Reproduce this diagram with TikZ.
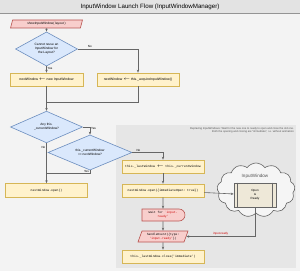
\documentclass[tikz,border=0pt]{standalone}
\usepackage{fontspec}
\setmainfont{Liberation Sans}
\setmonofont{Liberation Mono}
\usepackage{tikz}
\usetikzlibrary{shapes.geometric,shapes.misc,shapes.symbols,arrows.meta}
\definecolor{canvas}{HTML}{F3F3F3}
\definecolor{titlebar}{HTML}{E3E3E3}
\definecolor{panelgray}{HTML}{E6E6E6}
\definecolor{wire}{HTML}{666666}
\definecolor{pinkfill}{HTML}{F8CECC}
\definecolor{pinkline}{HTML}{B85450}
\definecolor{bluefill}{HTML}{DAE8FC}
\definecolor{blueline}{HTML}{6C8EBF}
\definecolor{yellowfill}{HTML}{FFF2CC}
\definecolor{yellowline}{HTML}{D6B656}
\definecolor{cloudfill}{HTML}{F5F5F5}
\definecolor{readyfill}{HTML}{EEE8D8}
\definecolor{eventred}{HTML}{CC0000}
\definecolor{notegray}{HTML}{555555}

\tikzset{
  stepbox/.style={draw=yellowline, fill=yellowfill, line width=0.6pt, minimum height=13pt, inner sep=1pt, align=center, font=\fontsize{3.4}{4}\selectfont},
  codebox/.style={stepbox, font=\ttfamily\fontsize{3.1}{3.7}\selectfont},
  decision/.style={diamond, draw=blueline, fill=bluefill, line width=0.6pt, inner sep=0pt, align=center, font=\fontsize{3.2}{3.8}\selectfont},
  iobox/.style={trapezium, trapezium left angle=62, trapezium right angle=118, trapezium stretches body, draw=pinkline, fill=pinkfill, line width=0.6pt, inner sep=0.5pt, align=center},
  flow/.style={draw=wire, line width=0.6pt, -{Stealth[length=3pt,width=2.4pt]}},
  joinline/.style={draw=wire, line width=0.6pt},
  tag/.style={font=\fontsize{3}{3.5}\selectfont, inner sep=0.8pt, text=black}
}

\begin{document}
\begin{tikzpicture}[x=1pt, y=1pt]
  \useasboundingbox (0,0) rectangle (300,271);
  % background, title bar, replacing panel
  \fill[canvas] (0,0) rectangle (300,271);
  \fill[titlebar] (0,258) rectangle (300,271);
  \draw[wire!70, line width=0.5pt] (0,258) -- (300,258);
  \node (title) at (150,264.5) {\fontsize{6.2}{7}\selectfont InputWindow Launch Flow (InputWindowManager)};
  \fill[panelgray] (116,3) rectangle (296,146);
  \node (note) [anchor=north east, align=right, text=notegray, inner sep=0pt, font=\fontsize{2.7}{3.3}\selectfont] at (294,143.5)
    {Replacing InputWindows: Wait for the new one to ready to open and close the old one.\\
     Both the opening and closing are ``immediate'', i.e. without animation};

  % left column
  \node (start) [iobox, minimum width=72pt, minimum height=8pt, font=\fontsize{3.2}{3.8}\selectfont] at (46.5,247) {showInputWindow( layout )};
  \node (d1) [decision, minimum width=62pt, minimum height=21pt] at (46.5,222) {Cannot reuse an\\InputWindow for\\the Layout?};
  \node (bnew) [stepbox, minimum width=73pt] at (46.5,191.5) {nextWindow $\leftarrow$ new InputWindow};
  \node (bacq) [stepbox, minimum width=82pt] at (138,191.5) {nextWindow $\leftarrow$ this.\_acquireInputWindow()};
  \coordinate (merge) at (46.5,169);
  \node (d2) [decision, minimum width=72pt, minimum height=17pt] at (46.5,144) {Any this.\\\_currentWindow?};
  \node (d3) [decision, minimum width=84pt, minimum height=21pt] at (90,118.5) {this.\_currentWindow\\== nextWindow?};
  \coordinate (rejoin) at (46.5,98);
  \node (bopen) [codebox, minimum width=82pt, minimum height=14pt] at (46.5,80.5) {nextWindow.open()};

  % replacing branch
  \node (blast) [codebox, minimum width=82pt] at (163,104.5) {this.\_lastWindow $\leftarrow$ this.\_currentWindow};
  \node (bimm) [codebox, minimum width=82pt] at (163,80.5) {nextWindow.open(\{immediateOpen: true\})};
  \node (iw) [cloud, cloud puffs=13, cloud puff arc=110, aspect=1.5, draw=wire, fill=cloudfill, line width=0.6pt, minimum width=78pt, minimum height=54pt, inner sep=0pt] at (256,81) {};
  \node (iwlabel) [font=\fontsize{4.6}{5.5}\selectfont, text=notegray] at (255,95) {InputWindow};
  \node (ready) [draw=wire, fill=readyfill, line width=0.6pt, minimum width=42pt, minimum height=24pt, inner sep=0pt, align=center, font=\fontsize{3}{3.8}\selectfont] at (255,76) {Open\\\&\\Ready};
  \draw[wire, line width=0.6pt] ([xshift=4pt]ready.north west) -- ([xshift=4pt]ready.south west);
  \draw[wire, line width=0.6pt] ([xshift=-4pt]ready.north east) -- ([xshift=-4pt]ready.south east);
  \node (wait) [rounded rectangle, rounded rectangle west arc=none, draw=pinkline, fill=pinkfill, line width=0.6pt, minimum width=44pt, minimum height=12pt, inner sep=0.5pt, align=center, font=\ttfamily\fontsize{3}{3.7}\selectfont] at (163,56)
    {Wait for {\color{eventred}`input-}\\{\color{eventred}ready'}};
  \node (handle) [iobox, minimum width=50pt, minimum height=11pt, font=\ttfamily\fontsize{3}{3.7}\selectfont] at (163,34.5)
    {handleEvent(\{type:\\{\color{eventred}'input-ready'}\})};
  \node (bclose) [codebox, minimum width=82pt] at (163,14.5) {this.\_lastWindow.close('immediate')};

  % connectors
  \draw[flow] (start) -- (d1);
  \draw[flow] (d1.east) -| node[tag, above, pos=0.1] {No} (bacq.north);
  \draw[flow] (d1.south) -- node[tag, right, pos=0.3] {Yes} (bnew.north);
  \draw[flow] (bnew) -- (d2);
  \draw[joinline] (bacq.south) |- (merge);
  \draw[flow] (d2.east) -| node[tag, right, pos=0.62] {Yes} (d3.north);
  \draw[flow] (d2.south) -- node[tag, left, pos=0.12] {No} (bopen.north);
  \draw[flow] (d3.east) -| node[tag, above, pos=0.1] {No} (blast.north);
  \draw[joinline] (d3.south) |- node[tag, left, pos=0.2] {Yes} (rejoin);
  \draw[flow] (blast) -- (bimm);
  \draw[flow] (bimm) -- (ready);
  \draw[flow] (bimm) -- (wait);
  \draw[flow] (wait) -- (handle);
  \draw[flow] (ready.south) |- node[tag, above, pos=0.75, text=eventred] {input-ready} (handle.east);
  \draw[flow] (handle) -- (bclose);
\end{tikzpicture}
\end{document}
